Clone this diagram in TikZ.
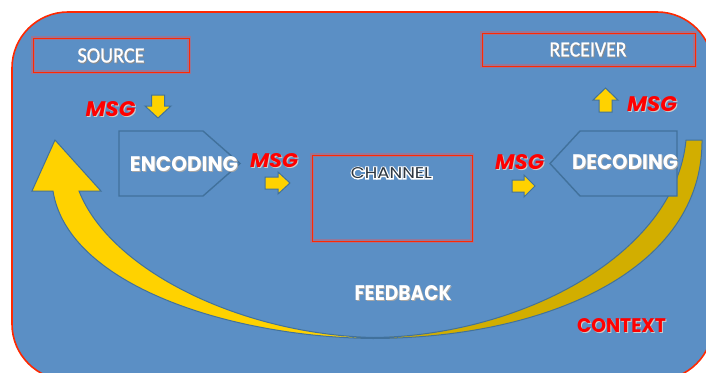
\documentclass[tikz,border=0pt]{standalone}
\usepackage{fontspec}
\usepackage{graphicx}
\newfontfamily\gothic{Poppins}
\newfontfamily\gothicglow{Poppins}[FakeBold=14]
\newfontfamily\calib{Carlito}[FakeBold=1.2]
\definecolor{bg}{RGB}{91,143,197}
\definecolor{edge}{RGB}{65,113,156}
\definecolor{brd}{RGB}{255,40,0}
\definecolor{yel}{RGB}{255,210,0}
\definecolor{gold}{RGB}{210,174,0}
\definecolor{msgred}{RGB}{255,0,0}
\definecolor{chtext}{RGB}{45,55,65}
% fitted text: width, cap height, text
\newcommand\gtb[3]{\resizebox{#1pt}{#2pt}{\gothic\bfseries #3}}
\newcommand\gti[3]{\resizebox{#1pt}{#2pt}{\gothic\bfseries\itshape #3}}
\newcommand\ctx[3]{\resizebox{#1pt}{#2pt}{\calib #3}}
% text with a drop shadow: colour, shadow colour, text
\newcommand\shadowed[3]{\leavevmode\rlap{\kern1pt\raisebox{-1pt}{\color{#2}#3}}{\color{#1}#3}}
% CHANNEL with a white glow round its letters
\newcommand\glowchannel{\leavevmode
  \rlap{\color{white}\resizebox{81pt}{11pt}{\gothicglow CHANNEL}}%
  {\color{chtext}\resizebox{81pt}{11pt}{\gothic CHANNEL}}}
\newcommand\crescent{(101,191) -- (55,140) -- (32,191) -- (53,191)
  .. controls (68,285) and (230,337) .. (373,338.5)
  .. controls (550,338) and (703,268) .. (702,140)
  -- (686,140)
  .. controls (675,255) and (520,336) .. (373,337.5)
  .. controls (240,334) and (110,270) .. (79,191)
  -- cycle}
\tikzset{
  redbox/.style={draw=brd, line width=0.9pt},
  redglow/.style={draw=red!70, line width=3.5pt, opacity=0.35},
  pent/.style={draw=edge, fill=bg, line width=1.4pt, line join=miter},
  yarrow/.style={draw=edge, fill=yel, line width=1pt, line join=miter},
  lbl/.style={inner sep=0pt},
}
\begin{document}
\begin{tikzpicture}[x=1pt,y=-1pt]
\useasboundingbox (0,0) rectangle (706,372);
\fill[white] (0,0) rectangle (706,372);
\begin{scope}
  \clip (0,0) rectangle (706,372);
  \draw[fill=bg, draw=brd, line width=1.6pt, rounded corners=56pt] (12,12) rectangle (713,380);
\end{scope}

% feedback arrow
\fill[yel] \crescent;
\begin{scope}
  \clip (373,0) rectangle (706,372);
  \fill[gold] \crescent;
\end{scope}
\draw[edge, line width=1pt, line join=miter] \crescent;

% source and receiver boxes
\draw[redglow] (33,38) rectangle (189,72);
\draw[redbox] (33,38) rectangle (189,72);
\node[lbl] (source) at (111,56) {\shadowed{white}{black!45}{\ctx{67}{14}{SOURCE}}};
\draw[redglow] (482,33) rectangle (695,66);
\draw[redbox] (482,33) rectangle (695,66);
\node[lbl] (receiver) at (588,50) {\shadowed{white}{black!45}{\ctx{77}{14}{RECEIVER}}};

% channel box
\draw[redglow] (312,155) rectangle (472,241);
\draw[redbox] (312,155) rectangle (472,241);
\node[lbl] (channel) at (391.5,173) {\glowchannel};

% encoding / decoding
\draw[pent] (119,131) -- (203,131) -- (240,163.5) -- (203,196) -- (119,196) -- cycle;
\node[lbl] (encoding) at (184,164.5) {\shadowed{white}{black!35}{\gtb{108}{15}{ENCODING}}};
\draw[pent] (550,163.5) -- (580,131) -- (677,131) -- (677,196) -- (580,196) -- cycle;
\node[lbl] (decoding) at (625,163) {\shadowed{white}{black!35}{\gtb{106}{15}{DECODING}}};

% MSG labels
\node[lbl] (msg1) at (110.5,110) {\shadowed{msgred}{white!80!black}{\gti{50}{15}{MSG}}};
\node[lbl] (msg2) at (274,161.5) {\shadowed{msgred}{white!80!black}{\gti{48}{14}{MSG}}};
\node[lbl] (msg3) at (519.5,162.5) {\shadowed{msgred}{white!80!black}{\gti{49}{15}{MSG}}};
\node[lbl] (msg4) at (652,104.5) {\shadowed{msgred}{white!80!black}{\gti{50}{15}{MSG}}};

% small yellow arrows
\draw[yarrow] (151.5,95) -- (164.5,95) -- (164.5,106) -- (171,106) -- (158,118) -- (145,106) -- (151.5,106) -- cycle;
\draw[yarrow] (599,112) -- (612,112) -- (612,100) -- (618,100) -- (605.5,88) -- (593,100) -- (599,100) -- cycle;
\draw[yarrow] (265,177) -- (278,177) -- (278,172) -- (290,183) -- (278,194) -- (278,189) -- (265,189) -- cycle;
\draw[yarrow] (512,180) -- (524,180) -- (524,175) -- (535,186) -- (524,197) -- (524,192) -- (512,192) -- cycle;

% feedback and context
\node[lbl] (feedback) at (403,293.5) {\shadowed{white}{black!35}{\gtb{97}{15}{FEEDBACK}}};
\node[lbl] (context) at (621.5,326.5) {\shadowed{msgred}{white!80!black}{\gtb{89}{14}{CONTEXT}}};
\end{tikzpicture}
\end{document}
